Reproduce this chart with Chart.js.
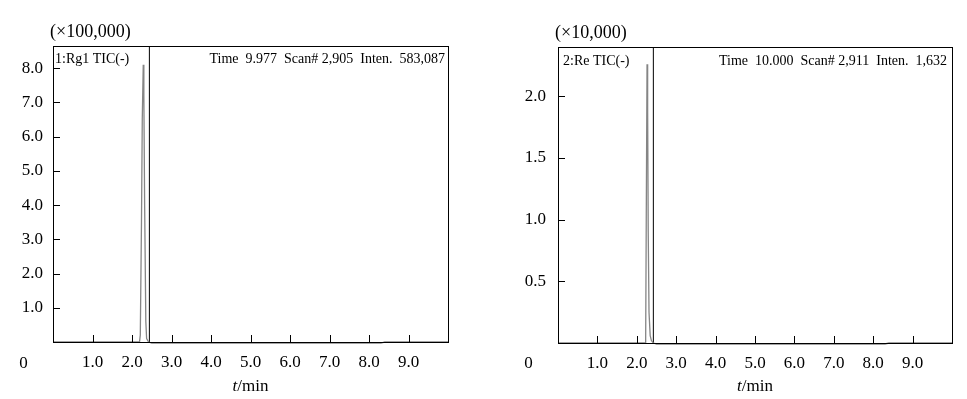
<!DOCTYPE html>
<html><head><meta charset="utf-8">
<script src="https://cdn.jsdelivr.net/npm/chart.js@4.4.1/dist/chart.umd.min.js"></script>
<style>
html,body{margin:0;padding:0;background:#fff;}
body{width:967px;height:399px;position:relative;overflow:hidden;}
canvas{position:absolute;top:0;}
</style></head><body>
<canvas id="c1" width="480" height="399" style="left:0px"></canvas>
<canvas id="c2" width="487" height="399" style="left:480px"></canvas>
<script>
// ---- data ----
const xTickValues = [1, 2, 3, 4, 5, 6, 7, 8, 9];
const rgTickValues = [1, 2, 3, 4, 5, 6, 7, 8];
const reTickValues = [0.5, 1.0, 1.5, 2.0];

// Rg1 TIC (x100,000)
const rgTime  = [0, 2.19, 2.21, 2.24, 2.26, 2.285, 2.30, 2.32, 2.35, 2.37, 2.42, 2.50, 4.0, 6.0, 8.3, 8.4, 10];
const rgInten = [0, 0,    0.2,  3.5,  6.5,  8.1,   7.2,  4.0,  0.6,  0.1,  0.0, -0.03, -0.03, -0.03, -0.03, 0, 0];

// Re TIC (x10,000)
const reTime  = [0, 2.21, 2.225, 2.24, 2.26, 2.275, 2.29, 2.31, 2.34, 2.37, 2.42, 2.50, 4.0, 6.0, 8.3, 8.4, 10];
const reInten = [0, 0,    0.03,  1.0,  2.26, 1.9,   0.9,  0.25, 0.06, 0.02, 0.0, -0.008, -0.008, -0.008, -0.008, 0, 0];

const rgCursor = 2.44;
const reCursor = 2.42;
const rgYMax = 8.65;
const reYMax = 2.40;

const rgUnit = '(\u00d7100,000)';
const reUnit = '(\u00d710,000)';
const rgName = '1:Rg1 TIC(-)';
const reName = '2:Re TIC(-)';
const rgInfo = 'Time  9.977  Scan# 2,905  Inten.  583,087';
const reInfo = 'Time  10.000  Scan# 2,911  Inten.  1,632';
const originLabel = '0';
const axisVar = 't';
const axisUnit = '/min';

const FONT = '"Liberation Serif", "Times New Roman", serif';

const panelPlugin = {
  id: 'panel',
  afterDraw(chart, args, o) {
    const {ctx, chartArea: a} = chart;
    const x = chart.scales.x, y = chart.scales.y;
    ctx.save();
    ctx.strokeStyle = '#000';
    ctx.lineWidth = 1;
    ctx.strokeRect(a.left + 0.5, a.top + 0.5, a.right - a.left, a.bottom - a.top);
    ctx.beginPath();
    x.ticks.forEach(t => {
      const px = Math.round(x.getPixelForValue(t.value)) + 0.5;
      ctx.moveTo(px, a.bottom); ctx.lineTo(px, a.bottom - 7);
    });
    y.ticks.forEach(t => {
      const py = Math.round(y.getPixelForValue(t.value)) + 0.5;
      ctx.moveTo(a.left, py); ctx.lineTo(a.left + 7, py);
    });
    ctx.stroke();
    ctx.fillStyle = '#000';
    ctx.textBaseline = 'alphabetic';
    ctx.textAlign = 'left';
    ctx.font = '18px ' + FONT;
    ctx.fillText(o.unit, a.left - 3, o.unitBase);
    ctx.font = '14px ' + FONT;
    ctx.fillText(o.name, a.left + o.namePad, o.labelBase);
    ctx.textAlign = 'right';
    ctx.fillText(o.info, a.right - o.infoPad, o.labelBase);
    ctx.font = '17px ' + FONT;
    ctx.textAlign = 'center';
    ctx.fillText(originLabel, a.left - 29.5, 368);
    // axis title: italic t + /min
    const cx = (a.left + a.right) / 2;
    ctx.font = 'italic 17px ' + FONT;
    const w1 = ctx.measureText(axisVar).width;
    ctx.font = '17px ' + FONT;
    const w2 = ctx.measureText(axisUnit).width;
    const sx = cx - (w1 + w2) / 2;
    ctx.textAlign = 'left';
    ctx.font = 'italic 17px ' + FONT;
    ctx.fillText(axisVar, sx, 391);
    ctx.font = '17px ' + FONT;
    ctx.fillText(axisUnit, sx + w1, 391);
    ctx.restore();
  }
};

function makeChart(id, cfg) {
  return new Chart(document.getElementById(id), {
    type: 'line',
    data: {
      datasets: [
        {
          data: cfg.time.map((t, i) => ({x: t, y: cfg.inten[i]})),
          borderColor: '#858585', borderWidth: 1.3, pointRadius: 0, tension: 0, clip: false
        },
        {
          data: [{x: cfg.cursor, y: 0}, {x: cfg.cursor, y: cfg.yMax}],
          borderColor: '#000', borderWidth: 1, pointRadius: 0, tension: 0
        }
      ]
    },
    options: {
      responsive: false, animation: false, devicePixelRatio: 1,
      layout: {padding: {top: cfg.top, right: cfg.padRight, left: 0, bottom: 0}},
      plugins: {
        legend: {display: false}, tooltip: {enabled: false},
        panel: {unit: cfg.unit, name: cfg.name, info: cfg.info, unitBase: cfg.unitBase,
                labelBase: cfg.labelBase, namePad: cfg.namePad, infoPad: cfg.infoPad}
      },
      scales: {
        x: {
          type: 'linear', min: 0, max: 10,
          grid: {display: false, drawTicks: false}, border: {display: false},
          afterBuildTicks: s => { s.ticks = xTickValues.map(v => ({value: v})); },
          afterFit: s => { s.height = cfg.xH; },
          ticks: {padding: 10, maxRotation: 0, autoSkip: false, color: '#000',
                  font: {family: FONT, size: 17}, callback: v => Number(v).toFixed(1)}
        },
        y: {
          type: 'linear', min: 0, max: cfg.yMax,
          grid: {display: false, drawTicks: false}, border: {display: false},
          afterBuildTicks: s => { s.ticks = cfg.yTicks.map(v => ({value: v})); },
          afterFit: s => { s.width = cfg.yW; },
          ticks: {padding: cfg.yPad, autoSkip: false, color: '#000',
                  font: {family: FONT, size: 17}, callback: v => Number(v).toFixed(1)}
        }
      }
    },
    plugins: [panelPlugin]
  });
}

makeChart('c1', {
  time: rgTime, inten: rgInten, cursor: rgCursor, yMax: rgYMax, yTicks: rgTickValues,
  top: 46, padRight: 32, xH: 57, yW: 53, yPad: 10,
  unit: rgUnit, name: rgName, info: rgInfo, unitBase: 37, labelBase: 63, namePad: 2, infoPad: 3
});
makeChart('c2', {
  time: reTime, inten: reInten, cursor: reCursor, yMax: reYMax, yTicks: reTickValues,
  top: 47, padRight: 15, xH: 56, yW: 78, yPad: 12,
  unit: reUnit, name: reName, info: reInfo, unitBase: 38, labelBase: 65, namePad: 5, infoPad: 5
});
</script>
</body></html>
